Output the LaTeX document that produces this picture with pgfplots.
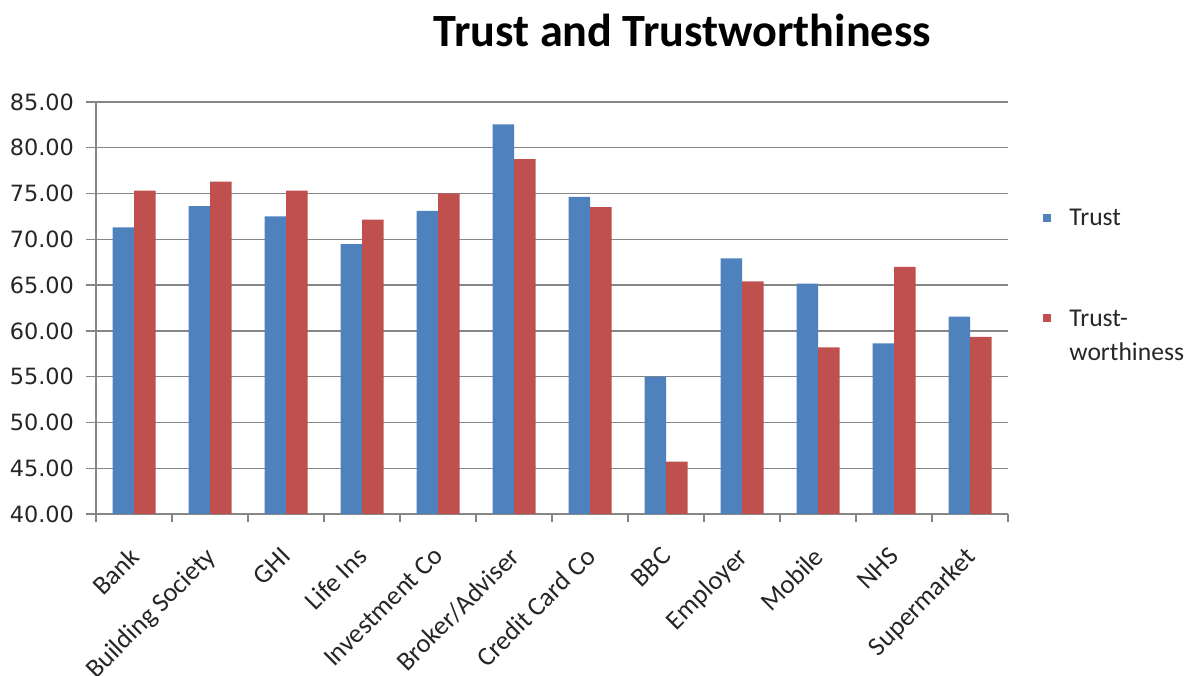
\documentclass[border=0pt]{standalone}
\usepackage{pgfplots}
\pgfplotsset{compat=1.18}
\usepackage{fontspec}
\setmainfont{Carlito}
\newfontfamily\tickfont{DejaVu Sans}

\definecolor{trustblue}{HTML}{4F81BD}
\definecolor{trustred}{HTML}{C0504D}
\definecolor{gridgray}{HTML}{868686}

% Survey scores per organisation (0 = Bank ... 11 = Supermarket)
\usepackage{pgfplotstable}
\pgfplotstableread{
idx trust worthy
0   71.30 75.33
1   73.64 76.30
2   72.52 75.33
3   69.49 72.16
4   73.10 75.03
5   82.55 78.75
6   74.63 73.53
7   55.00 45.72
8   67.92 65.42
9   65.16 58.20
10  58.65 66.98
11  61.56 59.34
}\scores

\begin{document}
\begin{tikzpicture}
\path[use as bounding box] (0pt,0pt) rectangle (597pt,337.5pt);
\begin{axis}[
  at={(48pt,80.5pt)}, anchor=south west,
  scale only axis, width=456pt, height=206pt,
  ybar=0pt, bar width=10.75pt,
  xmin=-0.5, xmax=11.5, ymin=40, ymax=85,
  ytick={40,45,...,85},
  xtick={0,...,11},
  xticklabels={Bank,Building Society,GHI,Life Ins,Investment Co,Broker/Adviser,Credit Card Co,BBC,Employer,Mobile,NHS,Supermarket},
  minor xtick={-0.5,0.5,...,11.5},
  axis x line*=bottom, axis y line*=left,
  axis line style={gridgray, line width=0.7pt},
  tick align=outside,
  major x tick style={draw=none},
  minor x tick style={gridgray, line width=0.7pt},
  major y tick style={gridgray, line width=0.7pt},
  major tick length=5pt, minor tick length=4pt,
  ymajorgrids,
  major grid style={gridgray, line width=0.7pt},
  /pgf/number format/assume math mode=true,
  /pgf/number format/.cd, fixed, fixed zerofill, precision=2,
  /pgfplots/.cd,
  yticklabel style={font=\tickfont\fontsize{11.2}{13}\selectfont, text=black!85, xshift=-2.5pt},
  xticklabel style={font=\fontsize{13.3}{16}\selectfont, xshift=-3pt, yshift=-10.5pt,
    rotate=45, anchor=north east, inner sep=0pt, text=black!85},
  title={Trust and Trustworthiness},
  title style={at={(0.643,1.1054)}, anchor=base, font=\bfseries\fontsize{23.1}{27}\selectfont},
  legend style={at={(1.0384,0.75)}, anchor=north west, draw=none, fill=none,
    font=\fontsize{12.8}{15}\selectfont, text=black!85, inner sep=0pt, row sep=36.5pt, column sep=7pt,
    cells={anchor=base west, inner sep=0pt}},
]
\addplot[fill=trustblue, draw=none,
  legend image code/.code={\fill[trustblue] (0pt,2pt) rectangle (4pt,6pt);}]
  table[x=idx, y=trust] {\scores};
\addlegendentry{Trust}
\addplot[fill=trustred, draw=none,
  legend image code/.code={\fill[trustred] (0pt,2pt) rectangle (4pt,6pt);}]
  table[x=idx, y=worthy] {\scores};
\addlegendentry{\vtop{\baselineskip=17pt\hbox{Trust-}\hbox{worthiness}}}
\end{axis}
\end{tikzpicture}
\end{document}
